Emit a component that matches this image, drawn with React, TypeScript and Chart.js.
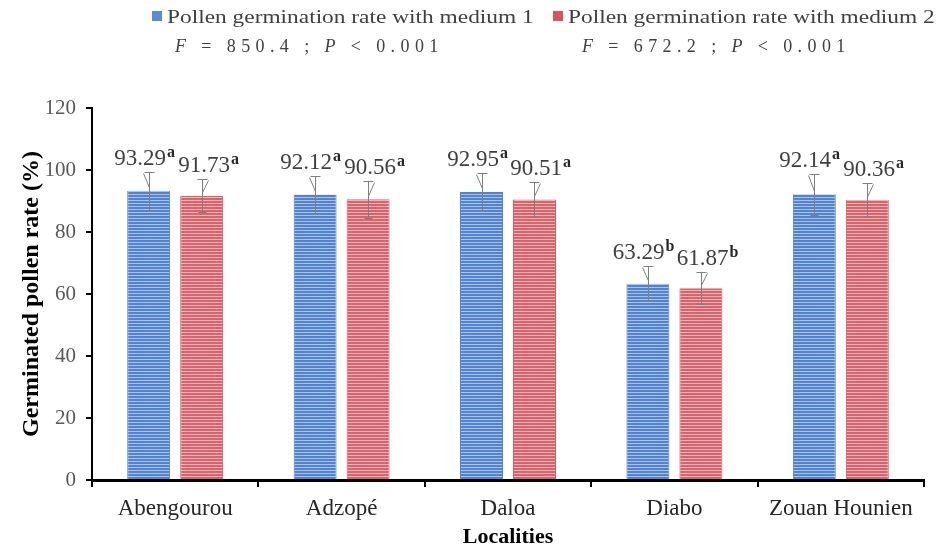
import React, { useEffect, useRef } from "react";
import { Chart, registerables } from "chart.js";

Chart.register(...registerables);

const categories = ["Abengourou", "Adzopé", "Daloa", "Diabo", "Zouan Hounien"];
const medium1 = [93.29, 92.12, 92.95, 63.29, 92.14];
const medium2 = [91.73, 90.56, 90.51, 61.87, 90.36];
const sd1 = [6.1, 5.9, 6.1, 5.7, 6.5];
const sd2 = [5.4, 5.9, 5.6, 5.2, 5.4];
const letters1 = ["a", "a", "a", "b", "a"];
const letters2 = ["a", "a", "a", "b", "a"];
const seriesLabels = [
  "Pollen germination rate with medium 1",
  "Pollen germination rate with medium 2",
];
const statTexts = ["F = 850.4 ; P < 0.001", "F = 672.2 ; P < 0.001"];
const yMin = 0;
const yMax = 120;
const yStep = 20;
const xTitle = "Localities";
const yTitle = "Germinated pollen rate (%)";

const FAMILY = '"Liberation Serif", "Times New Roman", serif';

function stripes(dark: string, light: string) {
  const c = document.createElement("canvas");
  c.width = 4;
  c.height = 3;
  const g = c.getContext("2d")!;
  g.fillStyle = dark;
  g.fillRect(0, 0, 4, 3);
  g.fillStyle = light;
  g.fillRect(0, 2, 4, 1);
  return g.createPattern(c, "repeat")!;
}

const annotPlugin = {
  id: "annot",
  afterDatasetsDraw(chart: any) {
    const ctx: CanvasRenderingContext2D = chart.ctx;
    const ys = chart.scales.y;
    const vals = [medium1, medium2];
    const sds = [sd1, sd2];
    const lets = [letters1, letters2];
    chart.data.datasets.forEach((_ds: any, di: number) => {
      const meta = chart.getDatasetMeta(di);
      meta.data.forEach((bar: any, i: number) => {
        const cx = Math.round(bar.x) + 0.5;
        const v = vals[di][i];
        const s = sds[di][i];
        const top = Math.round(ys.getPixelForValue(v + s)) + 0.5;
        const bot = Math.round(ys.getPixelForValue(v - s)) + 0.5;
        const barTop = ys.getPixelForValue(v);
        ctx.save();
        ctx.strokeStyle = "#7f7f7f";
        ctx.lineWidth = 1;
        ctx.beginPath();
        ctx.moveTo(cx, top);
        ctx.lineTo(cx, bot);
        ctx.moveTo(cx - 5, top);
        ctx.lineTo(cx + 5, top);
        ctx.moveTo(cx - 4, bot);
        ctx.lineTo(cx + 4, bot);
        const dir = di === 0 ? -1 : 1;
        ctx.moveTo(cx + dir * 6, top + 1);
        ctx.lineTo(cx, barTop - 3);
        ctx.stroke();

        // value label with superscript letter
        const txt = v.toFixed(2);
        const sup = lets[di][i];
        ctx.font = `23px ${FAMILY}`;
        const w1 = ctx.measureText(txt).width;
        ctx.font = `bold 16px ${FAMILY}`;
        const w2 = ctx.measureText(sup).width;
        const total = w1 + 1 + w2;
        const center = cx + (di === 0 ? -5 : 6);
        const x0 = center - total / 2;
        const base = top - 8;
        ctx.textAlign = "left";
        ctx.textBaseline = "alphabetic";
        ctx.fillStyle = "#404040";
        ctx.font = `23px ${FAMILY}`;
        ctx.fillText(txt, x0, base);
        ctx.fillStyle = "#262626";
        ctx.font = `bold 16px ${FAMILY}`;
        ctx.fillText(sup, x0 + w1 + 1, base - 8);
        ctx.restore();
      });
    });
  },
  afterDraw(chart: any) {
    const ctx: CanvasRenderingContext2D = chart.ctx;
    const ds = chart.data.datasets;
    const items = [
      { sq: 152, tx: 167, st: 175 },
      { sq: 553, tx: 568, st: 582 },
    ];
    ctx.save();
    items.forEach((it, di) => {
      ctx.fillStyle = ds[di].legendColor;
      ctx.fillRect(it.sq, 11, 10, 10);
      ctx.fillStyle = "#404040";
      ctx.font = `19px ${FAMILY}`;
      ctx.textBaseline = "alphabetic";
      ctx.textAlign = "left";
      ctx.save();
      ctx.translate(it.tx, 23);
      ctx.scale(1.23, 1);
      ctx.fillText(seriesLabels[di], 0, 0);
      ctx.restore();
      // stat text, letter-spaced, italic F and P
      let x = it.st;
      const str = statTexts[di];
      for (const ch of str) {
        const italic = ch === "F" || ch === "P";
        ctx.font = `${italic ? "italic " : ""}18px ${FAMILY}`;
        ctx.fillText(ch, x, 52);
        x += ctx.measureText(ch).width + 5.4;
      }
    });
    ctx.restore();
  },
};

export default function App() {
  const ref = useRef<HTMLCanvasElement | null>(null);
  useEffect(() => {
    if (!ref.current) return;
    const blue = stripes("#5383cc", "#a8c4ee");
    const red = stripes("#d9636a", "#f5b4b7");
    const chart = new Chart(ref.current, {
      type: "bar",
      data: {
        labels: categories,
        datasets: [
          {
            label: seriesLabels[0],
            data: medium1,
            backgroundColor: blue,
            borderColor: "#4a78c0",
            borderWidth: { left: 1, right: 1, top: 0, bottom: 0 },
            borderSkipped: false,
            categoryPercentage: 0.637,
            barPercentage: 0.81,
            legendColor: "#5b8bd2",
          } as any,
          {
            label: seriesLabels[1],
            data: medium2,
            backgroundColor: red,
            borderColor: "#c9555c",
            borderWidth: { left: 1, right: 1, top: 0, bottom: 0 },
            borderSkipped: false,
            categoryPercentage: 0.637,
            barPercentage: 0.81,
            legendColor: "#d9545c",
          } as any,
        ],
      },
      options: {
        responsive: false,
        animation: false,
        events: [],
        layout: { padding: { top: 108, right: 12, left: 0, bottom: 0 } },
        plugins: {
          legend: { display: false },
          tooltip: { enabled: false },
        },
        scales: {
          x: {
            grid: {
              display: true,
              offset: true,
              drawOnChartArea: false,
              drawTicks: true,
              tickLength: 7,
              color: "#000",
              lineWidth: 2,
            },
            border: { display: true, color: "#000", width: 3 },
            ticks: {
              color: "#262626",
              font: { family: FAMILY, size: 23 },
              padding: 8,
              maxRotation: 0,
              autoSkip: false,
            },
            title: {
              display: true,
              text: xTitle,
              color: "#000",
              font: { family: FAMILY, size: 22, weight: "bold" },
              padding: { top: 0, bottom: 0 },
            },
            afterFit: (s: any) => {
              s.height = 71;
            },
          },
          y: {
            min: yMin,
            max: yMax,
            ticks: {
              stepSize: yStep,
              color: "#595959",
              font: { family: FAMILY, size: 21 },
              padding: 10,
            },
            grid: {
              drawOnChartArea: false,
              drawTicks: true,
              tickLength: 6,
              color: "#000",
              lineWidth: 2,
            },
            border: { display: true, color: "#000", width: 2 },
            title: {
              display: true,
              text: yTitle,
              color: "#000",
              font: { family: FAMILY, size: 24, weight: "bold" },
              padding: { top: 17, bottom: 0 },
            },
            afterFit: (s: any) => {
              s.width = 92;
            },
          },
        },
      } as any,
      plugins: [annotPlugin],
    });
    return () => chart.destroy();
  }, []);
  return (
    <div style={{ position: "fixed", left: 0, top: 0, width: 936, height: 551, background: "#fff" }}>
      <canvas ref={ref} width={936} height={551} style={{ display: "block" }} />
    </div>
  );
}
